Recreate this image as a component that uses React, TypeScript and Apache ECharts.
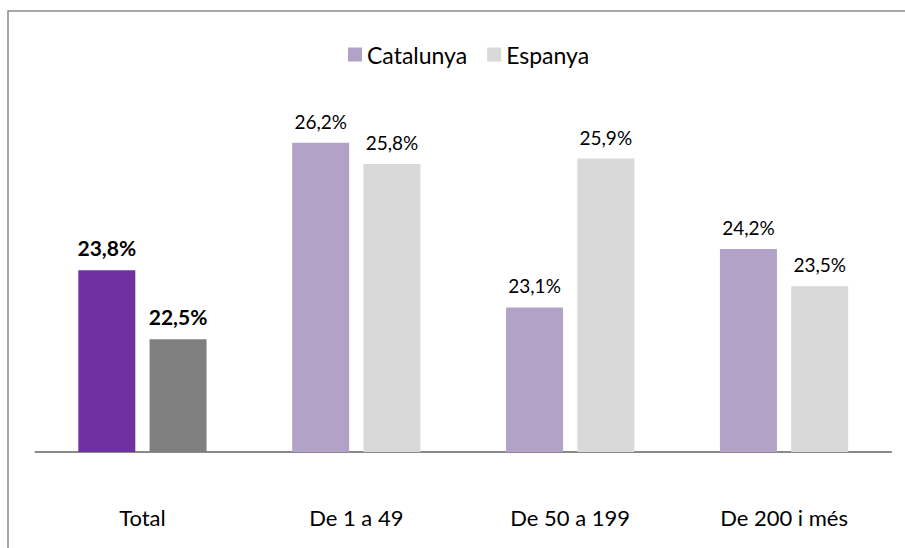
import React, { useEffect, useRef } from "react";
import * as echarts from "echarts";

const categories = ["Total", "De 1 a 49", "De 50 a 199", "De 200 i més"];
const catalunya = [23.8, 26.2, 23.1, 24.2];
const espanya = [22.5, 25.8, 25.9, 23.5];
const seriesNames = ["Catalunya", "Espanya"];

const FONT = "Lato, 'Open Sans', sans-serif";
const fmt = (v: number) => v.toFixed(1).replace(".", ",") + "%";

export default function App() {
  const ref = useRef<HTMLDivElement>(null);
  useEffect(() => {
    if (!ref.current) return;
    const chart = echarts.init(ref.current, null, { renderer: "svg" });
    const mk = (vals: number[], light: string, strong: string) =>
      vals.map((v, i) =>
        i === 0
          ? {
              value: v,
              itemStyle: { color: strong },
              label: { fontWeight: "bold", fontSize: 21 },
            }
          : { value: v, itemStyle: { color: light } }
      );
    chart.setOption({
      animation: false,
      backgroundColor: "#ffffff",
      textStyle: { fontFamily: FONT },
      graphic: [
        {
          type: "rect",
          shape: { x: 8, y: 11, width: 1000, height: 1000 },
          style: { fill: "none", stroke: "#8c8c8c", lineWidth: 1.5 },
          silent: true,
        },
      ],
      legend: {
        left: 343,
        top: 38,
        itemWidth: 14,
        itemHeight: 14,
        itemGap: 20,
        icon: "rect",
        textStyle: { fontSize: 23, color: "#000", fontFamily: FONT },
        data: seriesNames,
      },
      grid: { left: 35.5, right: 14, top: 47, bottom: 96 },
      xAxis: {
        type: "category",
        data: categories,
        axisLine: { lineStyle: { color: "#898989", width: 2 } },
        axisTick: { show: false },
        axisLabel: { margin: 54, fontSize: 22, color: "#000", fontFamily: FONT },
      },
      yAxis: {
        type: "value",
        min: 20.38,
        max: 28,
        show: false,
        splitLine: { show: false },
      },
      series: [
        {
          name: seriesNames[0],
          type: "bar",
          barWidth: 57,
          barGap: "25%",
          itemStyle: { color: "#B3A2C7" },
          label: {
            show: true,
            position: "top",
            distance: 12,
            fontSize: 19,
            color: "#000",
            fontFamily: FONT,
            formatter: (p: any) => fmt(p.value),
          },
          data: mk(catalunya, "#B3A2C7", "#7030A0"),
        },
        {
          name: seriesNames[1],
          type: "bar",
          barWidth: 57,
          barGap: "25%",
          itemStyle: { color: "#D9D9D9" },
          label: {
            show: true,
            position: "top",
            distance: 12,
            fontSize: 19,
            color: "#000",
            fontFamily: FONT,
            formatter: (p: any) => fmt(p.value),
          },
          data: mk(espanya, "#D9D9D9", "#808080"),
        },
      ],
    });
    return () => chart.dispose();
  }, []);
  return (
    <div
      ref={ref}
      style={{ position: "fixed", left: 0, top: 0, width: 905, height: 548 }}
    />
  );
}
